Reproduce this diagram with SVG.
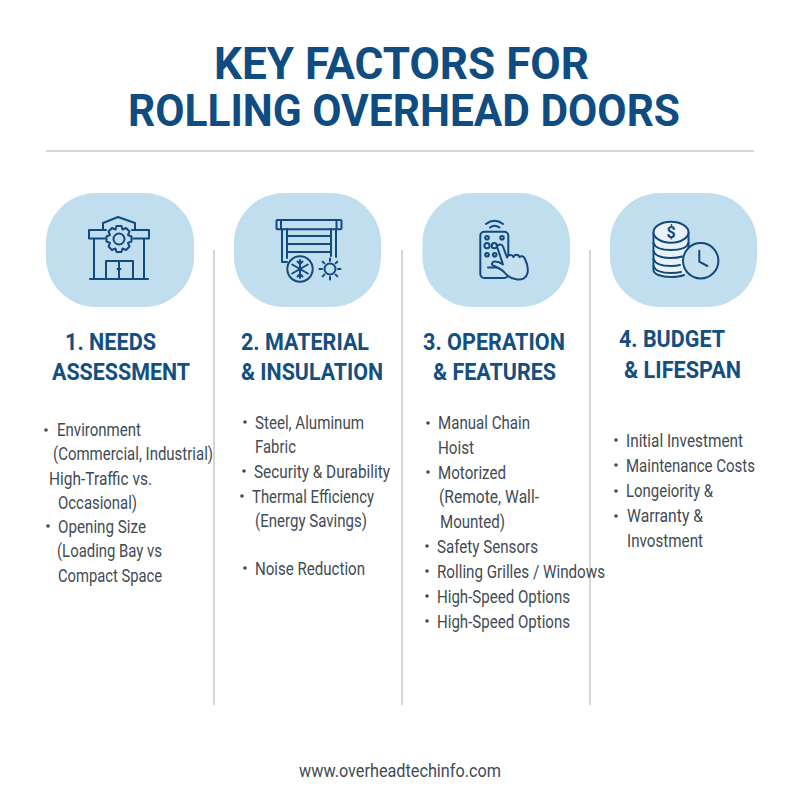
<svg xmlns="http://www.w3.org/2000/svg" width="800" height="800" viewBox="0 0 800 800">
<style>
text{font-family:Roboto,"Liberation Sans",sans-serif}
.t{font-size:44px;font-weight:700;fill:#0f4c81}
.h{font-size:23.500px;font-weight:700;fill:#134f80}
.b{font-size:18px;fill:#424b54}
.d{fill:#424b54}
.p{fill:#c0deee}
.i{fill:none;stroke:#114a80;stroke-width:2;stroke-linecap:round;stroke-linejoin:round}
.r{stroke:#c6cacd;stroke-width:1.500}
</style>
<rect width="800" height="800" fill="#fff"/>
<g id="title">
<text class="t" x="214" y="79" textLength="375" lengthAdjust="spacingAndGlyphs">KEY FACTORS FOR</text>
<text class="t" x="128" y="126" textLength="552" lengthAdjust="spacingAndGlyphs">ROLLING OVERHEAD DOORS</text>
</g>
<g id="rules">
<line class="r" x1="46" y1="151" x2="754" y2="151"/>
<line class="r" x1="214" y1="250" x2="214" y2="705"/>
<line class="r" x1="402" y1="250" x2="402" y2="705"/>
<line class="r" x1="590" y1="250" x2="590" y2="705"/>
</g>
<g id="col1">
<rect class="p" x="46" y="193" width="148" height="114" rx="50"/>
<g class="i">
<path d="M103 230V223L118 217L135 223V230M89 230H106M132 230H149V238.500H133M105 238.500H89V230M94 239V279M144 239V279M90 279H148M106 279V261H133V279M119 261V279M117.500 269H120.500"/>
<path d="M116.500 226H121.500L122.500 229.500L126 228L129.500 231.500L128 235L131.500 236.500V241.500L128 243L129.500 246.500L126 250L122.500 248.500L121.500 252H116.500L115.500 248.500L112 250L108.500 246.500L110 243L106.500 241.500V236.500L110 235L108.500 231.500L112 228L115.500 229.500Z"/>
<circle cx="119" cy="239" r="5.500"/>
</g>
<text class="h" x="65" y="350" textLength="91" lengthAdjust="spacingAndGlyphs">1. NEEDS</text>
<text class="h" x="52" y="380" textLength="138" lengthAdjust="spacingAndGlyphs">ASSESSMENT</text>
<circle class="d" cx="46" cy="430" r="1.800"/>
<text class="b" x="57" y="436" textLength="84" lengthAdjust="spacingAndGlyphs">Environment</text>
<text class="b" x="53" y="460" textLength="160" lengthAdjust="spacingAndGlyphs">(Commercial, Industrial)</text>
<text class="b" x="49" y="484.500" textLength="103" lengthAdjust="spacingAndGlyphs">High-Traffic vs.</text>
<text class="b" x="58" y="508.500" textLength="79" lengthAdjust="spacingAndGlyphs">Occasional)</text>
<circle class="d" cx="48" cy="526" r="1.800"/>
<text class="b" x="58" y="532.500" textLength="88" lengthAdjust="spacingAndGlyphs">Opening Size</text>
<text class="b" x="57" y="557" textLength="105" lengthAdjust="spacingAndGlyphs">(Loading Bay vs</text>
<text class="b" x="58" y="581.500" textLength="104" lengthAdjust="spacingAndGlyphs">Compact Space</text>
</g>
<g id="col2">
<rect class="p" x="234" y="193" width="147" height="114" rx="50"/>
<g class="i">
<rect x="276.500" y="220" width="65" height="9.300" rx="1"/>
<path d="M281 220V229M336.500 220V229M282 229V262H287M287 229V258M331 229V256M336 229V257M287 236H331M287 244H331M287 252H331"/>
<circle cx="300" cy="269" r="12.700" fill="#c0deee"/>
<path d="M300 260V278M292.200 264.500L307.800 273.500M292.200 273.500L307.800 264.500M297.500 261.500L300 264L302.500 261.500M297.500 276.500L300 274L302.500 276.500"/>
<circle cx="330" cy="269" r="5.500"/>
<path d="M330 258.500V261M330 277V279.500M319.500 269H322M338 269H340.500M322.600 261.600L324.400 263.400M335.600 274.600L337.400 276.400M322.600 276.400L324.400 274.600M335.600 263.400L337.400 261.600"/>
</g>
<text class="h" x="241" y="350" textLength="128" lengthAdjust="spacingAndGlyphs">2. MATERIAL</text>
<text class="h" x="241" y="380" textLength="142" lengthAdjust="spacingAndGlyphs">&amp; INSULATION</text>
<circle class="d" cx="245" cy="422" r="1.800"/>
<text class="b" x="255" y="428.500" textLength="109" lengthAdjust="spacingAndGlyphs">Steel, Aluminum</text>
<text class="b" x="255" y="452.500" textLength="41" lengthAdjust="spacingAndGlyphs">Fabric</text>
<circle class="d" cx="244" cy="471" r="1.800"/>
<text class="b" x="254" y="477.500" textLength="136" lengthAdjust="spacingAndGlyphs">Security &amp; Durability</text>
<circle class="d" cx="242" cy="496" r="1.800"/>
<text class="b" x="252" y="502.500" textLength="122" lengthAdjust="spacingAndGlyphs">Thermal Efficiency</text>
<text class="b" x="255" y="526.500" textLength="112" lengthAdjust="spacingAndGlyphs">(Energy Savings)</text>
<circle class="d" cx="245" cy="568" r="1.800"/>
<text class="b" x="255" y="574.500" textLength="110" lengthAdjust="spacingAndGlyphs">Noise Reduction</text>
</g>
<g id="col3">
<rect class="p" x="422.500" y="193" width="147.500" height="114" rx="50"/>
<g class="i">
<rect x="480.300" y="231.700" width="28" height="46.300" rx="4"/>
<path d="M486 224Q494.500 217.500 503 224M490 227.500Q494.500 224 499.500 227.500M488 267.500H500"/>
<circle cx="487" cy="237.700" r="1.800"/><circle cx="502" cy="237.700" r="1.800"/>
<circle cx="487" cy="245.700" r="2.600"/><circle cx="494.300" cy="245.700" r="2.600"/>
<circle cx="487" cy="254.700" r="1.800"/><circle cx="494.700" cy="254.700" r="1.800"/>
<path d="M497 246.500C498 244 502 243.500 503 246.500L507 257.500C508 254.500 512 254 513.500 257C514.500 254 518.500 254 519.500 257C521 255.500 524 256 525 259C527 263 528.500 268 527.500 273C526.500 278 522 280 517 279.500C512 279 508 277 504 272C501 269 497 267 493 265.500C491 264.500 492 261.500 495 261.500C498 261.500 501 263 503 264.500Z" fill="#c5e0ef"/>
</g>
<text class="h" x="423" y="350" textLength="142" lengthAdjust="spacingAndGlyphs">3. OPERATION</text>
<text class="h" x="433" y="380" textLength="123" lengthAdjust="spacingAndGlyphs">&amp; FEATURES</text>
<circle class="d" cx="428" cy="423" r="1.800"/>
<text class="b" x="438" y="429" textLength="92" lengthAdjust="spacingAndGlyphs">Manual Chain</text>
<text class="b" x="438" y="453.500" textLength="36" lengthAdjust="spacingAndGlyphs">Hoist</text>
<circle class="d" cx="428" cy="472" r="1.800"/>
<text class="b" x="438" y="478.500" textLength="68" lengthAdjust="spacingAndGlyphs">Motorized</text>
<text class="b" x="439" y="502.500" textLength="100" lengthAdjust="spacingAndGlyphs">(Remote, Wall-</text>
<text class="b" x="440" y="527.500" textLength="65" lengthAdjust="spacingAndGlyphs">Mounted)</text>
<circle class="d" cx="427" cy="546" r="1.800"/>
<text class="b" x="437" y="552.500" textLength="101" lengthAdjust="spacingAndGlyphs">Safety Sensors</text>
<circle class="d" cx="427" cy="571" r="1.800"/>
<text class="b" x="437" y="577.500" textLength="168" lengthAdjust="spacingAndGlyphs">Rolling Grilles / Windows</text>
<circle class="d" cx="427" cy="596" r="1.800"/>
<text class="b" x="437" y="602.500" textLength="133" lengthAdjust="spacingAndGlyphs">High-Speed Options</text>
<circle class="d" cx="427" cy="621" r="1.800"/>
<text class="b" x="437" y="627.500" textLength="133" lengthAdjust="spacingAndGlyphs">High-Speed Options</text>
</g>
<g id="col4">
<rect class="p" x="610" y="193" width="147" height="114" rx="50"/>
<g class="i">
<path d="M653.500 232.500V270C653.500 274 661 277 671 277C676 277 681 276.200 684 275L688.500 248V232.500Z" fill="#e8f2f8" stroke="none"/>
<path d="M653.500 232.500V270C653.500 274 661 277 671 277C676 277 681 276.200 684 275M688.500 232.500V248"/>
<path d="M653.500 243C655 247.500 662 250 671 250C680 250 687 247.500 688.500 243M653.500 251C655 255.500 662 258 671 258C675 258 679 257.500 682 256.500M653.500 259C655 263.500 662 266 671 266C674 266 677 265.800 680 265M653.500 266C655 270.500 662 273 671 273C674 273 678 272.800 681 272"/>
<ellipse cx="671" cy="232.300" rx="17.500" ry="10.500" fill="#e8f2f8"/>
<circle cx="700.700" cy="260.700" r="17.700" fill="#c5e0ef"/>
<path d="M699.300 250.700V261.700L707.300 266"/>
</g>
<text x="671" y="238" text-anchor="middle" font-size="16" font-weight="700" fill="#114a80">$</text>
<text class="h" x="619" y="347" textLength="106" lengthAdjust="spacingAndGlyphs">4. BUDGET</text>
<text class="h" x="624" y="378" textLength="117" lengthAdjust="spacingAndGlyphs">&amp; LIFESPAN</text>
<circle class="d" cx="616" cy="440" r="1.800"/>
<text class="b" x="626" y="446.500" textLength="117" lengthAdjust="spacingAndGlyphs">Initial Investment</text>
<circle class="d" cx="616" cy="465" r="1.800"/>
<text class="b" x="626" y="471.500" textLength="129" lengthAdjust="spacingAndGlyphs">Maintenance Costs</text>
<circle class="d" cx="616" cy="491" r="1.800"/>
<text class="b" x="626" y="497" textLength="87" lengthAdjust="spacingAndGlyphs">Longeiority &amp;</text>
<circle class="d" cx="616" cy="516" r="1.800"/>
<text class="b" x="627" y="522" textLength="76" lengthAdjust="spacingAndGlyphs">Warranty &amp;</text>
<text class="b" x="627" y="547" textLength="76" lengthAdjust="spacingAndGlyphs">Invostment</text>
</g>
<g id="footer">
<text class="b" x="299" y="777" textLength="202" lengthAdjust="spacingAndGlyphs">www.overheadtechinfo.com</text>
</g>
</svg>
